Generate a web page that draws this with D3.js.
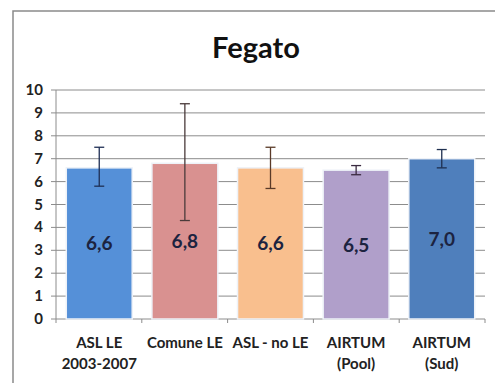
<!DOCTYPE html>
<html lang="it">
<head>
<meta charset="UTF-8">
<title>Fegato</title>
<script src="https://cdn.jsdelivr.net/npm/d3@7"></script>
<style>
  body { margin: 0; background: #fff; }
  text { font-family: Lato, "Open Sans", sans-serif; font-weight: bold; }
</style>
</head>
<body>
<script>
  var categories = [["ASL LE", "2003-2007"], ["Comune LE"], ["ASL - no LE"], ["AIRTUM", "(Pool)"], ["AIRTUM", "(Sud)"]];
  var values = [6.6, 6.8, 6.6, 6.5, 7.0];
  var lower = [5.8, 4.3, 5.7, 6.3, 6.6];
  var upper = [7.5, 9.4, 7.5, 6.7, 7.4];
  var yTicks = [0, 1, 2, 3, 4, 5, 6, 7, 8, 9, 10];
  var barColors = ["#5590d8", "#d99190", "#f9bf8e", "#b09fca", "#4f7fbc"];
  var errColors = ["#1f2f55", "#4a3a3a", "#5a3a28", "#3a2a40", "#1f3050"];

  var width = 495, height = 383;
  var svg = d3.select("body").append("svg")
      .attr("width", width).attr("height", height);

  // chart frame
  svg.append("path")
      .attr("d", "M13,383 V11 H495")
      .attr("fill", "none").attr("stroke", "#8a8a8a").attr("stroke-width", 1.5);

  svg.append("text")
      .attr("x", 256).attr("y", 58)
      .attr("text-anchor", "middle")
      .attr("font-size", 29)
      .attr("fill", "#111")
      .text("Fegato");

  var pLeft = 56, pRight = 485, pTop = 90, pBottom = 319;
  var x = d3.scaleBand().domain(d3.range(values.length)).range([pLeft, pRight]).paddingInner(0.23).paddingOuter(0.12);
  var y = d3.scaleLinear().domain([0, 10]).range([pBottom, pTop]);

  // gridlines
  svg.append("g").selectAll("line").data(yTicks).join("line")
      .attr("x1", pLeft - 5).attr("x2", pRight)
      .attr("y1", d => y(d)).attr("y2", d => y(d))
      .attr("stroke", "#8c8c8c").attr("stroke-width", 1);

  // y labels
  svg.append("g").selectAll("text").data(yTicks).join("text")
      .attr("x", 43).attr("y", d => y(d) + 5)
      .attr("text-anchor", "end")
      .attr("font-size", 15)
      .attr("fill", "#222")
      .text(d => d);

  // y axis line
  svg.append("line").attr("x1", pLeft).attr("x2", pLeft).attr("y1", pTop).attr("y2", pBottom)
      .attr("stroke", "#8c8c8c");

  // x axis ticks
  svg.append("g").selectAll("line").data(d3.range(values.length + 1)).join("line")
      .attr("x1", d => pLeft + d * (pRight - pLeft) / values.length)
      .attr("x2", d => pLeft + d * (pRight - pLeft) / values.length)
      .attr("y1", pBottom).attr("y2", pBottom + 4)
      .attr("stroke", "#8c8c8c");

  // bars
  svg.append("g").selectAll("rect").data(values).join("rect")
      .attr("x", (d, i) => x(i)).attr("width", x.bandwidth())
      .attr("y", d => y(d)).attr("height", d => y(0) - y(d))
      .attr("fill", (d, i) => barColors[i])
      .attr("stroke", "#eef2f8").attr("stroke-width", 1.5);

  // error bars
  var eb = svg.append("g").selectAll("g").data(values).join("g")
      .attr("stroke", (d, i) => errColors[i]).attr("stroke-width", 1.3);
  eb.append("line")
      .attr("x1", (d, i) => x(i) + x.bandwidth() / 2).attr("x2", (d, i) => x(i) + x.bandwidth() / 2)
      .attr("y1", (d, i) => y(lower[i])).attr("y2", (d, i) => y(upper[i]));
  eb.append("line")
      .attr("x1", (d, i) => x(i) + x.bandwidth() / 2 - 5).attr("x2", (d, i) => x(i) + x.bandwidth() / 2 + 5)
      .attr("y1", (d, i) => y(upper[i])).attr("y2", (d, i) => y(upper[i]));
  eb.append("line")
      .attr("x1", (d, i) => x(i) + x.bandwidth() / 2 - 5).attr("x2", (d, i) => x(i) + x.bandwidth() / 2 + 5)
      .attr("y1", (d, i) => y(lower[i])).attr("y2", (d, i) => y(lower[i]));

  // value labels
  svg.append("g").selectAll("text").data(values).join("text")
      .attr("x", (d, i) => x(i) + x.bandwidth() / 2)
      .attr("y", d => (y(d) + y(0)) / 2 + 7)
      .attr("text-anchor", "middle")
      .attr("font-size", 19)
      .attr("fill", "#1c2340")
      .text(d => d.toFixed(1).replace(".", ","));

  // category labels
  var cl = svg.append("g").selectAll("text").data(categories).join("text")
      .attr("x", (d, i) => x(i) + x.bandwidth() / 2)
      .attr("y", 348)
      .attr("text-anchor", "middle")
      .attr("font-size", 15)
      .attr("fill", "#222");
  cl.selectAll("tspan").data(d => d).join("tspan")
      .attr("x", function () { return this.parentNode.getAttribute("x"); })
      .attr("dy", (d, j) => j ? 21 : 0)
      .text(d => d);
</script>
</body>
</html>
